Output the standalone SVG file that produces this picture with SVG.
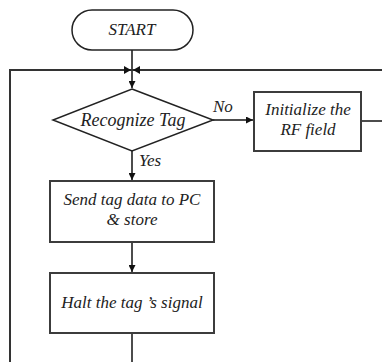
<svg xmlns="http://www.w3.org/2000/svg" width="382" height="362" viewBox="0 0 382 362">
<defs>
<style>
.ln{stroke:#111;stroke-width:1.5;fill:none}
.bx{fill:#fff;stroke:#3c3c3c;stroke-width:2}
.t{font-family:'Liberation Serif',serif;font-style:italic;font-size:17px;fill:#222}
.ah{fill:#111}
</style>
<marker id="arr" viewBox="0 0 8 8" refX="8" refY="4" markerWidth="7" markerHeight="7" markerUnits="userSpaceOnUse" orient="auto">
<path d="M0,0 L8,4 L0,8 Z" fill="#111"/>
</marker>
</defs>
<rect width="382" height="362" fill="#fff"/>
<g id="connectors">
<line class="ln" x1="132" y1="50" x2="132" y2="88" marker-end="url(#arr)"/>
<polyline class="ln" points="382,70 10,70 10,362" style="stroke:#333;stroke-width:2"/>
<path class="ah" d="M124,66 L131,70 L124,74 Z"/>
<path class="ah" d="M140,66 L133,70 L140,74 Z"/>
<line class="ln" x1="213" y1="120" x2="253" y2="120" marker-end="url(#arr)"/>
<line class="ln" x1="361" y1="121" x2="382" y2="121"/>
<line class="ln" x1="132" y1="151" x2="132" y2="180" marker-end="url(#arr)"/>
<line class="ln" x1="132" y1="242" x2="132" y2="272" marker-end="url(#arr)"/>
<line class="ln" x1="132" y1="333" x2="132" y2="362"/>
<text class="t" x="213" y="112" font-family="Liberation Serif" font-size="16">No</text>
<text class="t" x="139" y="166" font-family="Liberation Serif" font-size="16">Yes</text>
</g>
<g id="start">
<rect class="bx" x="72" y="10" width="121" height="40" rx="20" ry="20" style="stroke:#222;stroke-width:1.5"/>
<text class="t" x="132" y="35" text-anchor="middle" font-family="Liberation Serif">START</text>
</g>
<g id="recognize">
<polygon class="bx" points="132,89 213,120 132,151 53,120" style="stroke:#222;stroke-width:1.5"/>
<text class="t" x="133" y="126" text-anchor="middle" font-family="Liberation Serif" style="font-size:18px">Recognize Tag</text>
</g>
<g id="initialize">
<rect class="bx" x="254" y="92" width="107" height="59"/>
<text class="t" x="308" y="115" text-anchor="middle" font-family="Liberation Serif">Initialize the</text>
<text class="t" x="308" y="135" text-anchor="middle" font-family="Liberation Serif">RF field</text>
</g>
<g id="send">
<rect class="bx" x="50" y="181" width="164" height="61"/>
<text class="t" x="132" y="205" text-anchor="middle" font-family="Liberation Serif">Send tag data to PC</text>
<text class="t" x="132" y="225" text-anchor="middle" font-family="Liberation Serif">&amp; store</text>
</g>
<g id="halt">
<rect class="bx" x="50" y="273" width="164" height="60"/>
<text class="t" x="132" y="308" text-anchor="middle" font-family="Liberation Serif">Halt the tag ’s signal</text>
</g>
</svg>
